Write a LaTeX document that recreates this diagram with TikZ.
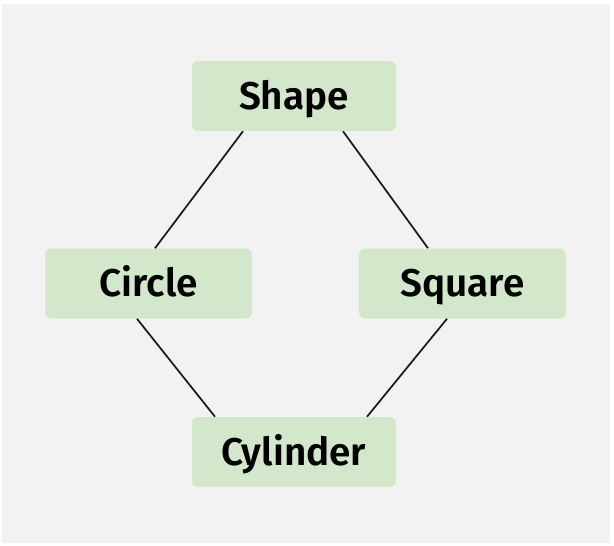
\documentclass[tikz,border=0pt]{standalone}
\usepackage{fontspec}
\setmainfont{Fira Sans}[BoldFont={Fira Sans SemiBold}]
\usetikzlibrary{calc}
\definecolor{bggray}{HTML}{F2F2F2}
\definecolor{boxgreen}{HTML}{D3E8CB}
\definecolor{linecol}{HTML}{1A1A1A}
\begin{document}
\begin{tikzpicture}[x=0.75pt,y=-0.75pt,
  box/.style={fill=boxgreen, draw=none, rounded corners=4.5pt, minimum width=153pt, minimum height=52.5pt, inner sep=0pt, text height=22.5pt, text depth=2.5pt, font=\fontsize{29}{33}\selectfont\bfseries, text=black},
  link/.style={draw=linecol, line width=1.3pt}]
\useasboundingbox (0,0) rectangle (614,546);
\fill[white] (0,0) rectangle (614,546);
\fill[bggray] (2,4) rectangle (610,543);
\node[box] (shape) at (294,96) {Shape};
\node[box, minimum width=155pt] (circle) at (148.5,283.5) {Circle};
\node[box, minimum width=155pt] (square) at (462.5,283.5) {Square};
\node[box] (cyl) at (294,452) {Cylinder};
\draw[link] ($(shape.south)+(-51,0)$) -- ($(circle.north)+(6.5,0)$);
\draw[link] ($(shape.south)+(49,0)$) -- ($(square.north)+(-34.5,0)$);
\draw[link] ($(circle.south)+(-11.5,0)$) -- ($(cyl.north)+(-79,0)$);
\draw[link] ($(square.south)+(-15.5,0)$) -- ($(cyl.north)+(73,0)$);
\end{tikzpicture}
\end{document}
